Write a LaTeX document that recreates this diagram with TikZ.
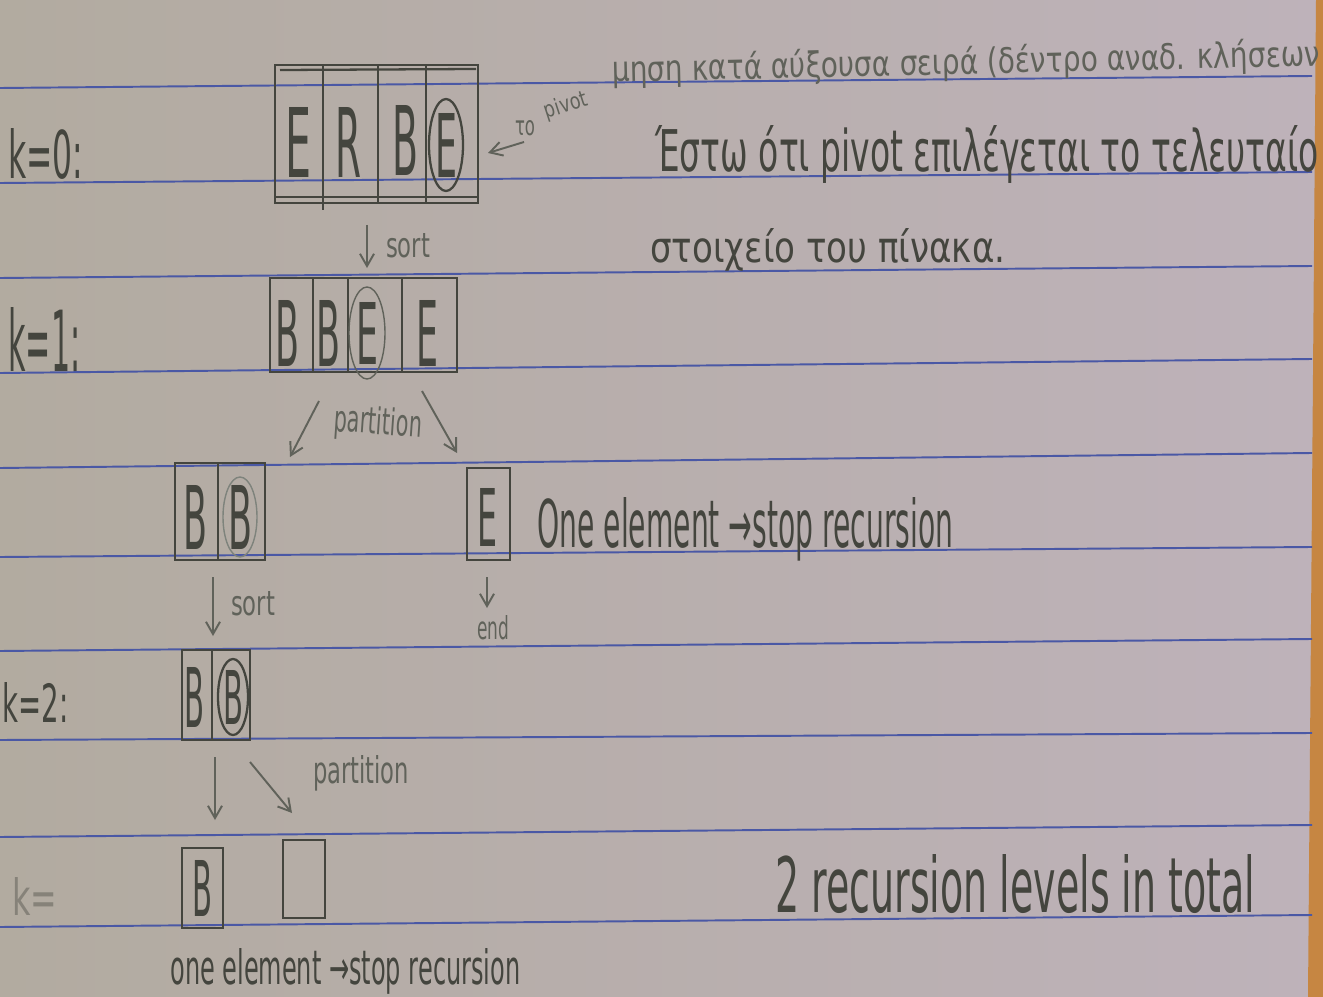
\documentclass[tikz,border=0pt]{standalone}
\usepackage{fontspec}
\usepackage{graphicx}
\usetikzlibrary{arrows.meta,fit}
\newfontfamily\hand{DejaVu Sans}
\newdimen\pxu \pxu=0.02cm
% text squeezed to w x h (in pixels)
\newcommand\hw[3]{\resizebox{#1\pxu}{#2\pxu}{\hand #3}}
\definecolor{paperL}{RGB}{178,171,160}
\definecolor{paperM}{RGB}{172,181,174}
\definecolor{paperR}{RGB}{190,178,186}
\definecolor{ruleblue}{RGB}{74,88,165}
\definecolor{pencil}{RGB}{68,69,62}
\definecolor{softpencil}{RGB}{96,98,90}
\definecolor{edge}{RGB}{198,134,66}

\tikzset{
  pen/.style={draw=pencil, line width=1.3pt},
  thinpen/.style={draw=softpencil, line width=0.8pt},
  box/.style={pen, inner sep=0pt},
  ruled/.style={draw=ruleblue, line width=1.1pt},
  arr/.style={draw=softpencil, line width=1.1pt, -{Straight Barb[length=7pt,width=8pt]}},
  txt/.style={text=pencil, inner sep=0pt},
  soft/.style={text=softpencil, inner sep=0pt}
}

\begin{document}
\begin{tikzpicture}[x=0.02cm,y=-0.02cm]
  %%%%% paper %%%%%
  \useasboundingbox (0,0) rectangle (1323,997);
  \shade[left color=paperL, middle color=paperM, right color=paperR] (0,0) rectangle (1323,997);
  \fill[edge] (1316,0) -- (1323,0) -- (1323,997) -- (1308,997) -- cycle;
  \foreach \l/\r in {88/76,183/172,278/266,373/359,468/453,557/547,651/639,740/733,837/825,927/915}
    \draw[ruled] (0,\l) -- (1312,\r);

  %%%%% level labels %%%%%
  \node[txt, anchor=base west] (k0) at (8,178) {\hw{75}{50}{k=0:}};
  \node[txt, anchor=base west] (k1) at (8,371) {\hw{72}{64}{k=1:}};
  \node[txt, anchor=base west] (k2) at (2,722) {\hw{66}{40}{k=2:}};
  \node[text=pencil!40!paperL, inner sep=0pt, anchor=base west] (k3) at (12,915) {\hw{45}{38}{k=}};

  %%%%% k=0 %%%%%
  \node[box, fit={(275,65) (478,203)}] (a0) {};
  \draw[pen] (280,70) -- (476,69);
  \draw[pen] (276,197) -- (477,197);
  \draw[pen] (323,66) -- (323,210);
  \draw[pen] (378,66) -- (378,203);
  \draw[pen] (426,66) -- (426,203);
  \node[txt] (a0e) at (298,142) {\hw{26}{70}{E}};
  \node[txt] (a0r) at (348,142) {\hw{26}{70}{R}};
  \node[txt] (a0b) at (405,140) {\hw{26}{70}{B}};
  \node[txt] (a0p) at (446,145) {\hw{22}{64}{E}};
  \draw[pen] (a0p) ellipse [x radius=17, y radius=46];

  % pivot note
  \coordinate (pvs) at (524,142);
  \coordinate (pvt) at (488,153);
  \draw[arr] (pvs) -- (pvt);
  \node[soft] (to) at (525,128) {\hw{20}{15}{το}};
  \node[soft, rotate=18] (pv) at (566,106) {\hw{44}{17}{pivot}};
  \node[soft, anchor=base west, rotate=1.3] (top) at (612,82)
    {\hw{708}{28}{μηση κατά αύξουσα σειρά (δέντρο αναδ. κλήσεων}};

  \node[txt, anchor=base west] (g1) at (655,172)
    {\hw{663}{46}{Έστω ότι pivot επιλέγεται το τελευταίο}};
  \node[txt, anchor=base west] (g2) at (650,262)
    {\hw{355}{34}{στοιχείο του πίνακα.}};

  %%%%% sort -> k=1 %%%%%
  \coordinate (s0a) at (367,225);
  \coordinate (s0b) at (367,268);
  \draw[arr] (s0a) -- (s0b);
  \node[soft] (sort0) at (408,246) {\hw{44}{24}{sort}};

  %%%%% k=1 %%%%%
  \node[box, fit={(270,278) (457,372)}] (a1) {};
  \draw[pen] (313,278) -- (313,372);
  \draw[pen] (348,278) -- (348,372);
  \draw[pen] (402,278) -- (402,372);
  \node[txt] (a1b) at (287,333) {\hw{24}{66}{B}};
  \node[txt] (a1c) at (328,333) {\hw{24}{66}{B}};
  \node[txt] (a1p) at (367,333) {\hw{22}{62}{E}};
  \node[txt] (a1e) at (427,333) {\hw{22}{66}{E}};
  \draw[thinpen] (a1p) ellipse [x radius=18, y radius=46];

  %%%%% partition %%%%%
  \coordinate (p1a) at (319,401);
  \coordinate (p1b) at (290,457);
  \coordinate (p1c) at (422,391);
  \coordinate (p1d) at (457,453);
  \draw[arr] (p1a) -- (p1b);
  \draw[arr] (p1c) -- (p1d);
  \node[soft, rotate=-4] (part1) at (378,424) {\hw{88}{28}{partition}};

  %%%%% left half %%%%%
  \node[box, fit={(175,463) (265,560)}] (a2) {};
  \draw[pen] (218,463) -- (218,560);
  \node[txt] (a2b) at (195,517) {\hw{24}{64}{B}};
  \node[txt] (a2c) at (240,517) {\hw{24}{64}{B}};
  \draw[thinpen, draw=softpencil!60!paperM] (a2c) ellipse [x radius=17, y radius=40];

  %%%%% right half %%%%%
  \node[box, fit={(467,468) (510,560)}] (a3) {};
  \node[txt] (a3e) at (487,517) {\hw{20}{58}{E}};
  \coordinate (e1a) at (487,577);
  \coordinate (e1b) at (487,608);
  \draw[arr] (e1a) -- (e1b);
  \node[soft] (end) at (493,628) {\hw{32}{24}{end}};
  \node[txt, anchor=base west] (stop1) at (537,547)
    {\hw{416}{50}{One element →stop recursion}};

  %%%%% sort -> k=2 %%%%%
  \coordinate (s1a) at (213,577);
  \coordinate (s1b) at (213,636);
  \draw[arr] (s1a) -- (s1b);
  \node[soft] (sort1) at (253,604) {\hw{44}{24}{sort}};

  %%%%% k=2 %%%%%
  \node[box, fit={(182,650) (250,740)}] (a4) {};
  \draw[pen] (212,650) -- (212,740);
  \node[txt] (a4b) at (194,697) {\hw{20}{60}{B}};
  \node[txt] (a4c) at (233,697) {\hw{20}{54}{B}};
  \draw[pen] (a4c) ellipse [x radius=15, y radius=38];

  %%%%% last partition %%%%%
  \coordinate (p2a) at (215,757);
  \coordinate (p2b) at (215,820);
  \coordinate (p2c) at (250,762);
  \coordinate (p2d) at (292,813);
  \draw[arr] (p2a) -- (p2b);
  \draw[arr] (p2c) -- (p2d);
  \node[soft] (part2) at (361,773) {\hw{96}{28}{partition}};

  \node[box, fit={(182,848) (223,928)}] (a5) {};
  \node[txt] (a5b) at (202,888) {\hw{20}{56}{B}};
  \node[box, fit={(283,840) (325,918)}] (a6) {};

  \node[txt, anchor=base west] (stop2) at (170,984)
    {\hw{350}{36}{one element →stop recursion}};
  \node[txt, anchor=base west] (total) at (775,912)
    {\hw{480}{58}{2 recursion levels in total}};
\end{tikzpicture}
\end{document}
